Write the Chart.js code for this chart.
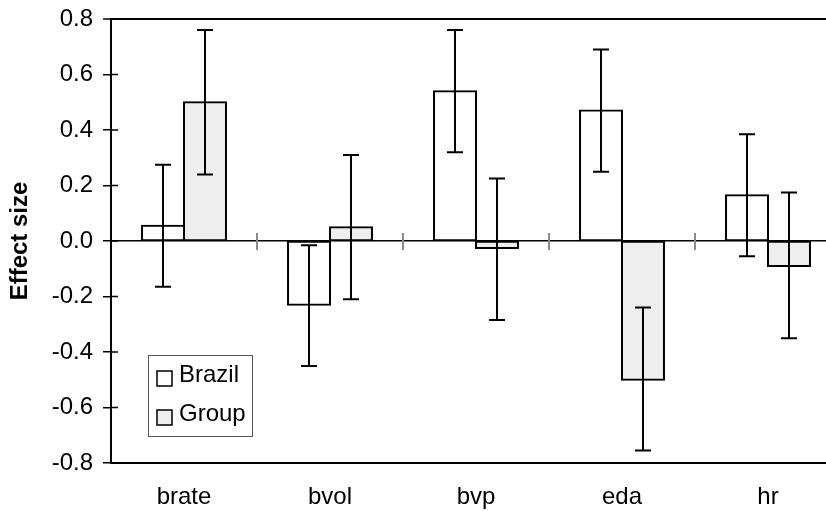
<!DOCTYPE html>
<html>
<head>
<meta charset="utf-8">
<title>Effect size</title>
<script src="https://cdn.jsdelivr.net/npm/chart.js@4/dist/chart.umd.min.js"></script>
<style>
    html, body { margin: 0; padding: 0; background: #fff; overflow: hidden; }
    #chart { display: block; }
</style>
</head>
<body>
<canvas id="chart" width="846" height="511"></canvas>
<script>
const categories = ['brate', 'bvol', 'bvp', 'eda', 'hr'];
const seriesNames = ['Brazil', 'Group'];

const brazilValues = [0.055, -0.23, 0.54, 0.47, 0.165];
const brazilLow = [-0.165, -0.45, 0.32, 0.25, -0.055];
const brazilHigh = [0.275, -0.015, 0.76, 0.69, 0.385];

const groupValues = [0.50, 0.05, -0.025, -0.50, -0.09];
const groupLow = [0.24, -0.21, -0.285, -0.755, -0.35];
const groupHigh = [0.76, 0.31, 0.225, -0.24, 0.175];

const yTicks = [-0.8, -0.6, -0.4, -0.2, 0.0, 0.2, 0.4, 0.6, 0.8];

Chart.defaults.font.family = '"Liberation Sans", Arial, sans-serif';
Chart.defaults.color = '#000';

const isZero = v => Math.abs(v) < 1e-9;

// whiskers for each bar, from the low/high arrays
const errorBars = {
    id: 'errorBars',
    afterDatasetsDraw(chart) {
        const ctx = chart.ctx;
        const y = chart.scales.y;
        ctx.save();
        ctx.strokeStyle = '#000';
        ctx.lineWidth = 2;
        chart.data.datasets.forEach((ds, i) => {
            const meta = chart.getDatasetMeta(i);
            meta.data.forEach((bar, j) => {
                const x = Math.round(bar.x);
                const top = y.getPixelForValue(ds.high[j]);
                const bottom = y.getPixelForValue(ds.low[j]);
                ctx.beginPath();
                ctx.moveTo(x, top);
                ctx.lineTo(x, bottom);
                ctx.moveTo(x - 8, top);
                ctx.lineTo(x + 8, top);
                ctx.moveTo(x - 8, bottom);
                ctx.lineTo(x + 8, bottom);
                ctx.stroke();
            });
        });
        ctx.restore();
    }
};

// category dividers on the zero line, inner half of the y ticks, legend box
const decorations = {
    id: 'decorations',
    afterDraw(chart) {
        const ctx = chart.ctx;
        const x = chart.scales.x;
        const y = chart.scales.y;
        const area = chart.chartArea;
        const zero = y.getPixelForValue(0);
        ctx.save();

        ctx.strokeStyle = '#8a8a8a';
        ctx.lineWidth = 2;
        for (let i = 1; i < categories.length; i++) {
            const px = Math.round((x.getPixelForValue(i - 1) + x.getPixelForValue(i)) / 2);
            ctx.beginPath();
            ctx.moveTo(px, zero - 8);
            ctx.lineTo(px, zero + 9);
            ctx.stroke();
        }

        ctx.strokeStyle = '#000';
        ctx.lineWidth = 1.5;
        y.ticks.forEach(t => {
            const py = y.getPixelForValue(t.value);
            ctx.beginPath();
            ctx.moveTo(area.left, py);
            ctx.lineTo(area.left + 7, py);
            ctx.stroke();
        });

        // legend
        const lx = area.left + 37;
        const ly = area.top + 336;
        ctx.fillStyle = '#fff';
        ctx.fillRect(lx, ly, 104, 81);
        ctx.strokeStyle = '#555';
        ctx.lineWidth = 1;
        ctx.strokeRect(lx + 0.5, ly + 0.5, 104, 81);
        ctx.font = '24px "Liberation Sans", Arial, sans-serif';
        ctx.textBaseline = 'alphabetic';
        ctx.textAlign = 'left';
        chart.data.datasets.forEach((ds, i) => {
            const sy = ly + 16 + i * 39;
            ctx.fillStyle = ds.backgroundColor;
            ctx.fillRect(lx + 9, sy, 15, 15);
            ctx.strokeStyle = '#000';
            ctx.lineWidth = 1.5;
            ctx.strokeRect(lx + 9, sy, 15, 15);
            ctx.fillStyle = '#000';
            ctx.fillText(ds.label, lx + 31, sy + 11);
        });
        ctx.restore();
    }
};

new Chart(document.getElementById('chart'), {
    type: 'bar',
    data: {
        labels: categories,
        datasets: [
            {
                label: seriesNames[0],
                data: brazilValues,
                low: brazilLow,
                high: brazilHigh,
                backgroundColor: '#ffffff',
                borderColor: '#000',
                borderWidth: 2,
                borderSkipped: false,
                inflateAmount: 1
            },
            {
                label: seriesNames[1],
                data: groupValues,
                low: groupLow,
                high: groupHigh,
                backgroundColor: '#eeeeee',
                borderColor: '#000',
                borderWidth: 2,
                borderSkipped: false,
                inflateAmount: 1
            }
        ]
    },
    options: {
        responsive: false,
        animation: false,
        categoryPercentage: 0.575,
        barPercentage: 1,
        layout: { padding: { top: 19, right: 5, left: 0, bottom: 0 } },
        plugins: {
            legend: { display: false },
            tooltip: { enabled: false }
        },
        scales: {
            x: {
                grid: { display: false, drawTicks: false },
                border: { display: true, color: '#000', width: 2 },
                ticks: { font: { size: 24 }, padding: 20, color: '#000' },
                afterFit(scale) {
                    scale.height = 48;
                    scale.paddingLeft = 0;
                    scale.paddingRight = 0;
                }
            },
            y: {
                min: yTicks[0],
                max: yTicks[yTicks.length - 1],
                afterBuildTicks(scale) {
                    scale.ticks = yTicks.map(v => ({ value: v }));
                },
                grid: {
                    color: ctx => (ctx.tick && (isZero(ctx.tick.value) || ctx.tick.value > 0.79)) ? '#000' : 'rgba(0,0,0,0)',
                    lineWidth: ctx => (ctx.tick && ctx.tick.value > 0.79) ? 2 : 1.5,
                    tickColor: '#000',
                    tickWidth: 1.5,
                    tickLength: 8,
                    drawTicks: true
                },
                border: { display: true, color: '#000', width: 2 },
                ticks: {
                    font: { size: 24 },
                    padding: 10,
                    color: '#000',
                    callback: v => (isZero(v) ? 0 : v).toFixed(1)
                },
                title: {
                    display: true,
                    text: 'Effect size',
                    font: { size: 24, weight: 'bold' },
                    padding: { top: 6, bottom: 0 },
                    color: '#000'
                },
                afterFit(scale) {
                    scale.width = 111;
                    scale.paddingTop = 0;
                    scale.paddingBottom = 0;
                }
            }
        }
    },
    plugins: [errorBars, decorations]
});
</script>
</body>
</html>
